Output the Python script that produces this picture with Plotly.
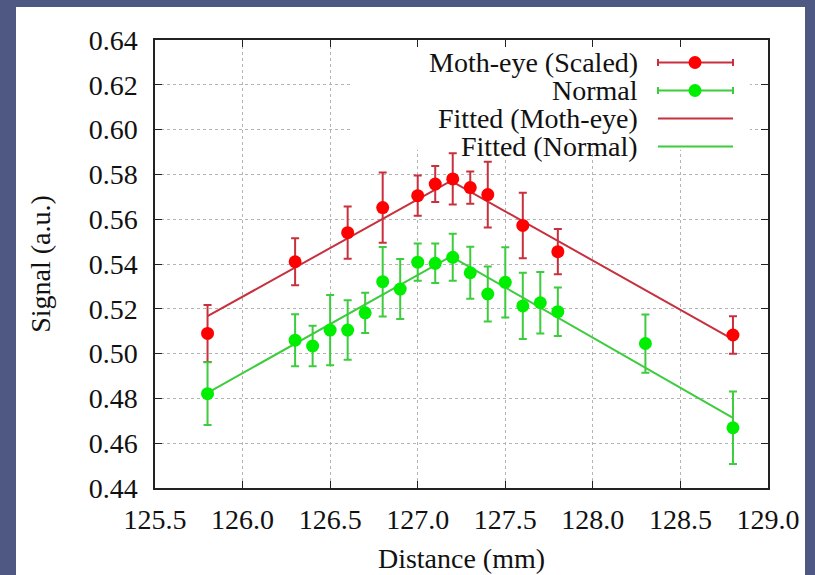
import plotly.graph_objects as go

# Measured signal vs. distance
x_moth = [125.8, 126.3, 126.6, 126.8, 127.0, 127.1, 127.2, 127.3, 127.4, 127.6, 127.8, 128.8]
y_moth = [0.5090, 0.5410, 0.5540, 0.5652, 0.5705, 0.5757, 0.5780, 0.5741, 0.5710, 0.5572, 0.5455, 0.5083]
err_moth = [0.0127, 0.0105, 0.0117, 0.0157, 0.0090, 0.0080, 0.0114, 0.0072, 0.0147, 0.0146, 0.0101, 0.0084]

x_norm = [125.8, 126.3, 126.4, 126.5, 126.6, 126.7, 126.8, 126.9, 127.0, 127.1,
          127.2, 127.3, 127.4, 127.5, 127.6, 127.7, 127.8, 128.3, 128.8]
y_norm = [0.4821, 0.5060, 0.5034, 0.5105, 0.5105, 0.5182, 0.5321, 0.5288, 0.5408, 0.5403,
          0.5430, 0.5361, 0.5266, 0.5318, 0.5213, 0.5227, 0.5187, 0.5045, 0.4669]
err_norm = [0.0140, 0.0116, 0.0090, 0.0157, 0.0133, 0.0090, 0.0155, 0.0134, 0.0083, 0.0088,
            0.0105, 0.0116, 0.0123, 0.0157, 0.0148, 0.0137, 0.0108, 0.0130, 0.0162]

# Piecewise-linear fits
fit_x = [125.8, 127.19, 128.8]
fit_moth = [0.5167, 0.5771, 0.5064]
fit_norm = [0.4825, 0.5434, 0.4713]

legend_labels = ["Moth-eye (Scaled)", "Normal", "Fitted (Moth-eye)", "Fitted (Normal)"]

RED_MARK = "#ff0000"
RED_LINE = "#c8303e"
GREEN_MARK = "#00ee00"
GREEN_LINE = "#3dcc3d"
FONT = "Liberation Serif"
FS = 28

W, H = 815, 575
ML, MR, MT, MB = 155, 47, 40, 87
PW, PH = W - ML - MR, H - MT - MB


def px(xp):
    return (xp - ML) / PW


def py(yp):
    return 1 - (yp - MT) / PH


fig = go.Figure()

fig.add_trace(go.Scatter(x=fit_x, y=fit_moth, mode="lines",
                         line=dict(color=RED_LINE, width=2), showlegend=False))
fig.add_trace(go.Scatter(x=fit_x, y=fit_norm, mode="lines",
                         line=dict(color=GREEN_LINE, width=2), showlegend=False))
fig.add_trace(go.Scatter(x=x_moth, y=y_moth, mode="markers",
                         marker=dict(color=RED_MARK, size=13),
                         error_y=dict(type="data", array=err_moth, color=RED_LINE,
                                      thickness=2, width=4),
                         showlegend=False))
fig.add_trace(go.Scatter(x=x_norm, y=y_norm, mode="markers",
                         marker=dict(color=GREEN_MARK, size=13),
                         error_y=dict(type="data", array=err_norm, color=GREEN_LINE,
                                      thickness=2, width=4),
                         showlegend=False))

shapes = [
    # white panel on the blue frame
    dict(type="rect", xref="paper", yref="paper", layer="below",
         x0=px(16), x1=px(805), y0=py(575), y1=py(7),
         fillcolor="white", line=dict(width=0)),
    # opaque key box hiding the grid behind it
    dict(type="rect", xref="x", yref="y", layer="between",
         x0=126.623, x1=128.897, y0=0.591, y1=0.64,
         fillcolor="white", line=dict(width=0)),
]

annotations = []
row_y = [62.5, 90.5, 118.5, 146.5]
row_col = [(RED_LINE, RED_MARK, True), (GREEN_LINE, GREEN_MARK, True),
           (RED_LINE, None, False), (GREEN_LINE, None, False)]
for lab, yy, (lc, mc, caps) in zip(legend_labels, row_y, row_col):
    annotations.append(dict(xref="paper", yref="paper", x=px(640), y=py(yy),
                            xanchor="right", yanchor="middle", showarrow=False,
                            text=lab, font=dict(family=FONT, size=FS, color="#111")))
    shapes.append(dict(type="line", xref="paper", yref="paper",
                       x0=px(658), x1=px(733), y0=py(yy), y1=py(yy),
                       line=dict(color=lc, width=2)))
    if caps:
        for cx in (658, 733):
            shapes.append(dict(type="line", xref="paper", yref="paper",
                               x0=px(cx), x1=px(cx), y0=py(yy - 3.5), y1=py(yy + 3.5),
                               line=dict(color=lc, width=2)))
        shapes.append(dict(type="circle", xref="paper", yref="paper",
                           x0=px(695 - 6.5), x1=px(695 + 6.5),
                           y0=py(yy + 6.5), y1=py(yy - 6.5),
                           fillcolor=mc, line=dict(width=0)))

axis_common = dict(
    showline=True, linecolor="#222", linewidth=1.5, mirror="ticks",
    ticks="inside", ticklen=7, tickcolor="#222", tickwidth=1.2,
    showgrid=True, gridcolor="#b4b4b4", griddash="dot", gridwidth=1,
    zeroline=False,
    tickfont=dict(family=FONT, size=FS, color="#111"),
)

fig.update_layout(
    width=W, height=H,
    margin=dict(l=ML, r=MR, t=MT, b=MB, autoexpand=False),
    paper_bgcolor="#4f5883",
    plot_bgcolor="white",
    font=dict(family=FONT, size=FS, color="#111"),
    xaxis=dict(range=[125.5, 129.0], dtick=0.5, tick0=125.5, tickformat=".1f",
               ticklabelstandoff=6,
               title=dict(text="Distance (mm)", standoff=14,
                          font=dict(family=FONT, size=FS, color="#111")),
               **axis_common),
    yaxis=dict(range=[0.44, 0.64], dtick=0.02, tick0=0.44, tickformat=".2f",
               ticklabelstandoff=10,
               title=dict(text="Signal (a.u.)", standoff=30,
                          font=dict(family=FONT, size=FS, color="#111")),
               **axis_common),
    shapes=shapes,
    annotations=annotations,
    showlegend=False,
)

fig.write_html("out.html")
